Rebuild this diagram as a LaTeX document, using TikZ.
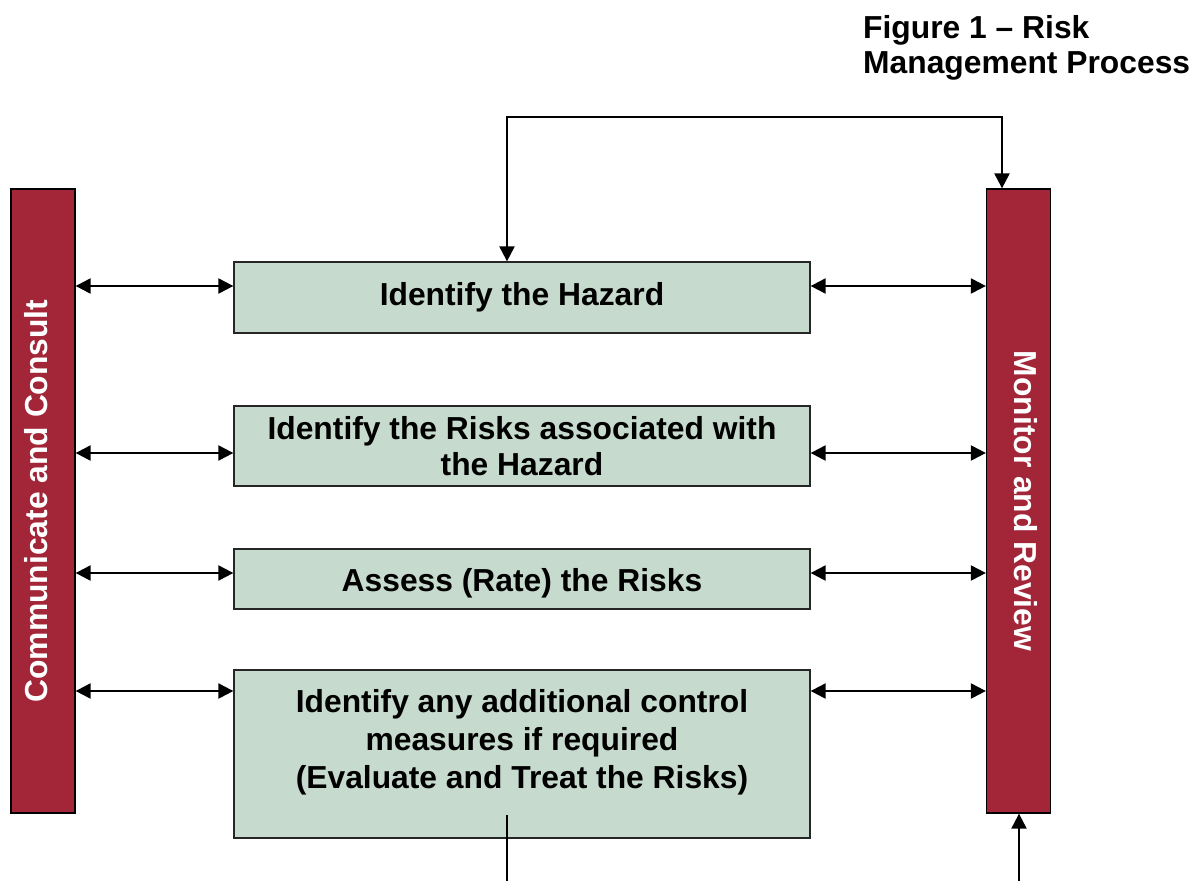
\documentclass[tikz,border=0pt]{standalone}
\usepackage{fontspec}
\setmainfont{Liberation Sans}
\usetikzlibrary{arrows.meta}
\definecolor{barred}{HTML}{A32638}
\definecolor{stepgreen}{HTML}{C6DACE}

\begin{document}
\begin{tikzpicture}[x=1pt,y=-1pt,
  font=\fontsize{31.8}{36}\selectfont\bfseries,
  bar/.style={draw=black, line width=1.3pt, fill=barred,
    minimum width=64pt, minimum height=624pt, inner sep=0pt},
  stepbox/.style={draw=black!85, line width=1.3pt, fill=stepgreen,
    minimum width=576pt, inner sep=0pt, align=center},
  bartext/.style={text=white, inner sep=0pt},
  tip/.tip={Triangle[length=15pt,width=15pt]},
  link/.style={line width=2.2pt, tip-tip},
  feed/.style={line width=2.2pt, -tip},
  plain/.style={line width=1.6pt}]
\useasboundingbox (0,0) rectangle (1202,881);

% title
\node[anchor=north west, inner sep=0pt, align=left,
      font=\fontsize{31.8}{35}\selectfont\bfseries] (title) at (863,15)
  {Figure 1 – Risk\\Management Process};

% side bars
\node[bar] (cc) at (43,501) {};
\node[bar] (mr) at (1018.5,501) {};
\node[bartext, rotate=90]  (cct) at (36,501)     {Communicate and Consult};
\node[bartext, rotate=-90] (mrt) at (1025.5,501) {Monitor and Review};

% process steps
\node[stepbox, minimum height=71pt] (b1) at (522,297.5) {Identify the Hazard};
\node[stepbox, minimum height=80pt] (b2) at (522,446)
  {Identify the Risks associated with\\the Hazard};
\node[stepbox, minimum height=60pt] (b3) at (522,579)
  {\raisebox{-12pt}[0pt][0pt]{Assess (Rate) the Risks}};
\node[stepbox, minimum height=168pt] (b4) at (522,754) {};
\node[anchor=north, inner sep=0pt, align=center,
      font=\fontsize{31.8}{38}\selectfont\bfseries] (b4t) at (522,689)
  {Identify any additional control\\measures if required\\(Evaluate and Treat the Risks)};

% arrow heights
\coordinate (l1) at ([yshift=11.5pt]b1.west);
\coordinate (l2) at ([yshift=-7pt]b2.west);
\coordinate (l3) at ([yshift=6pt]b3.west);
\coordinate (l4) at ([yshift=63pt]b4.west);

\foreach \c in {l1,l2,l3,l4}{
  \draw[link] (cc.east |- \c) -- (\c);
  \draw[link] (\c -| b1.east) -- (\c -| mr.west);
}

% feedback loop over the top
\coordinate (t1) at ([xshift=-15pt]b1.north);
\coordinate (t2) at ([xshift=-16.5pt]mr.north);
\draw[link] (t1) -- ++(0,-144) -| (t2);

% lines leaving the bottom
\coordinate (foot) at (0,881);
\coordinate (b4in) at ([xshift=-15pt,yshift=-61pt]b4.center);
\draw[plain] (b4in) -- (b4in |- foot);
\coordinate (t3) at ([xshift=0.5pt]mr.south);
\draw[feed] (t3 |- foot) -- (t3);
\end{tikzpicture}
\end{document}
